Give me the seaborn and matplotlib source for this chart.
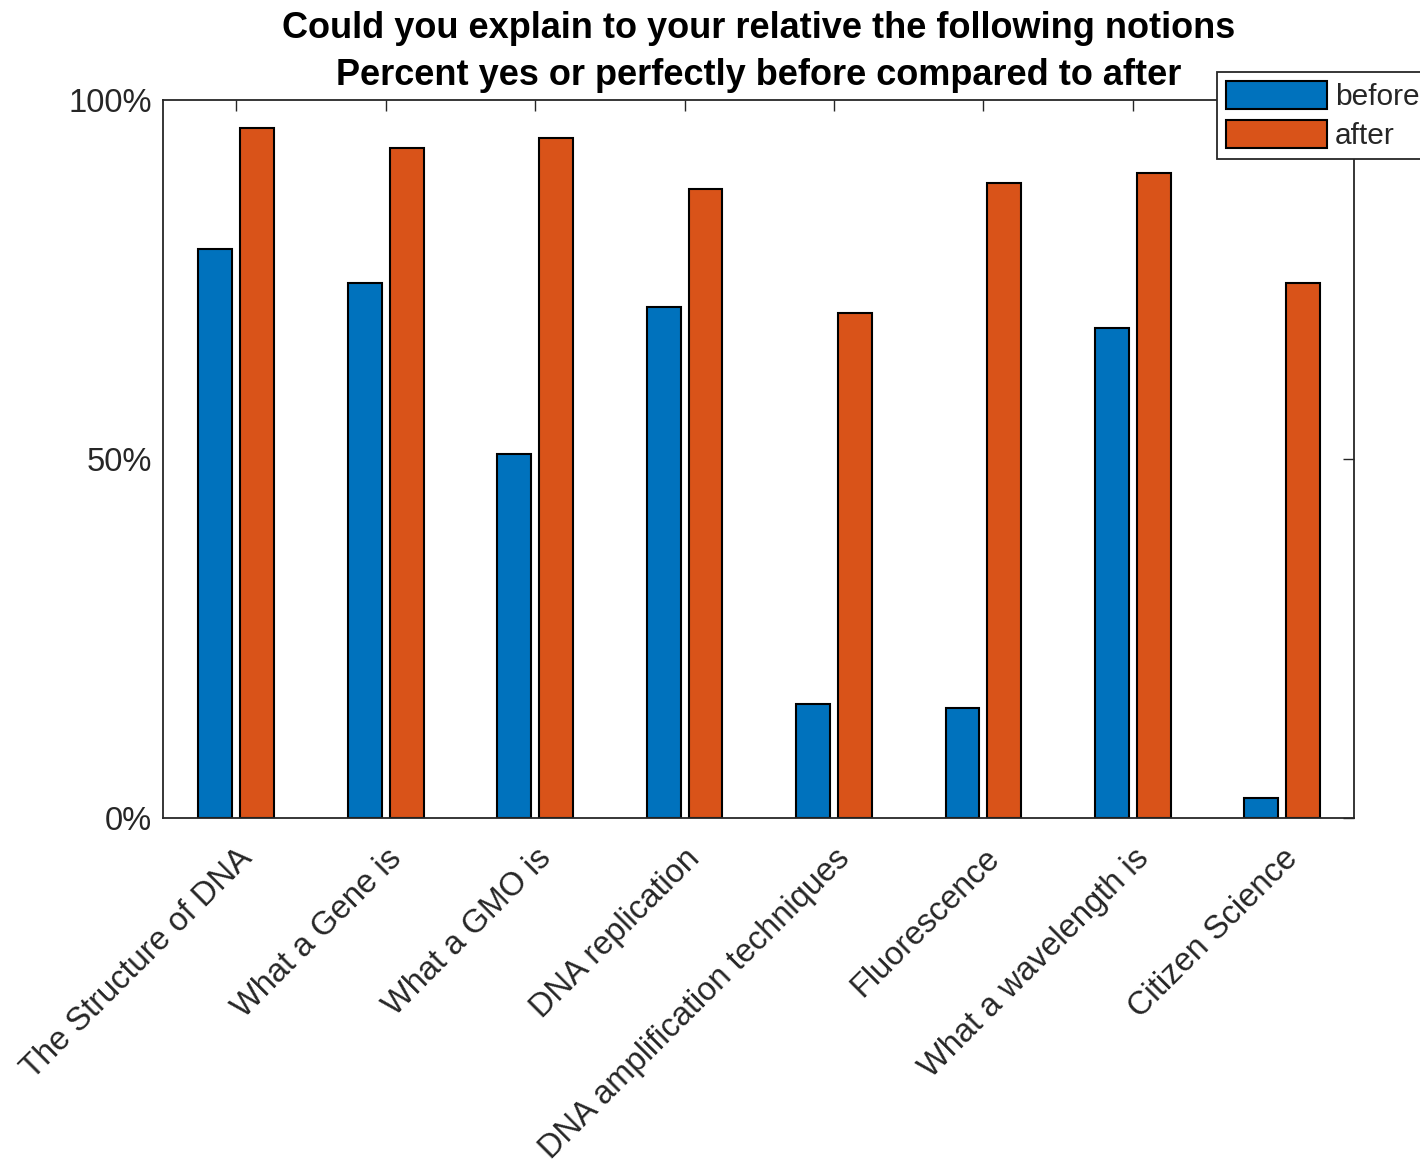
import matplotlib
matplotlib.use('Agg')
import numpy as np
import pandas as pd
import matplotlib.pyplot as plt
import seaborn as sns

notions = ["The Structure of DNA", "What a Gene is", "What a GMO is", "DNA replication",
           "DNA amplification techniques", "Fluorescence", "What a wavelength is", "Citizen Science"]
before = [79.2, 74.5, 50.7, 71.2, 15.9, 15.3, 68.2, 2.8]
after = [96.1, 93.3, 94.7, 87.6, 70.3, 88.4, 89.8, 74.5]
periods = ["before", "after"]
colors = ["#0072BD", "#D95319"]

df = pd.DataFrame({
    "notion": notions * 2,
    "period": ["before"] * len(notions) + ["after"] * len(notions),
    "pct": before + after,
})

sns.set_style("white")
plt.rcParams['font.family'] = ['Liberation Sans', 'DejaVu Sans']
text_col = "#262626"

fig = plt.figure(figsize=(14.2, 11.69), dpi=100)
ax = fig.add_axes([0.1148, 0.3003, 0.8387, 0.6142])

sns.barplot(data=df, x="notion", y="pct", hue="period", hue_order=periods,
            palette=colors, saturation=1, width=0.56, gap=0.19,
            edgecolor="black", linewidth=1.5, ax=ax, legend=False)

ax.set_ylim(0, 100)
ax.set_xlim(-0.49, 7.48)
ax.set_yticks([0, 50, 100])
ax.set_yticklabels(["0%", "50%", "100%"])
ax.set_xticks(range(len(notions)))
ax.set_xticklabels(notions, rotation=45, ha="right", rotation_mode="anchor")
ax.set_xlabel("")
ax.set_ylabel("")
ax.tick_params(axis="both", direction="in", length=8, width=1, colors=text_col,
               top=True, right=True)
ax.tick_params(axis="y", labelsize=23.5, pad=8)
ax.tick_params(axis="x", labelsize=23.5, pad=18)
for s in ax.spines.values():
    s.set_visible(True)
    s.set_color(text_col)
    s.set_linewidth(1.3)

ax.set_title("Could you explain to your relative the following notions\n"
             "Percent yes or perfectly before compared to after",
             fontsize=26, fontweight="bold", color="black", pad=11, linespacing=1.45)

handles = [plt.Rectangle((0, 0), 1, 1, facecolor=c, edgecolor="black", linewidth=1.5) for c in colors]
leg = fig.legend(handles, periods, loc="upper left", bbox_to_anchor=(1217 / 1420, 1 - 72 / 1169),
                 bbox_transform=fig.transFigure, fontsize=21.5, handlelength=3.4, handleheight=1.05,
                 handletextpad=0.25, labelspacing=0.3, borderpad=0.3, borderaxespad=0,
                 frameon=True, fancybox=False, framealpha=1)
leg.get_frame().set_edgecolor(text_col)
leg.get_frame().set_linewidth(1.3)
for t in leg.get_texts():
    t.set_color(text_col)

fig.savefig("out.png", dpi=100)
